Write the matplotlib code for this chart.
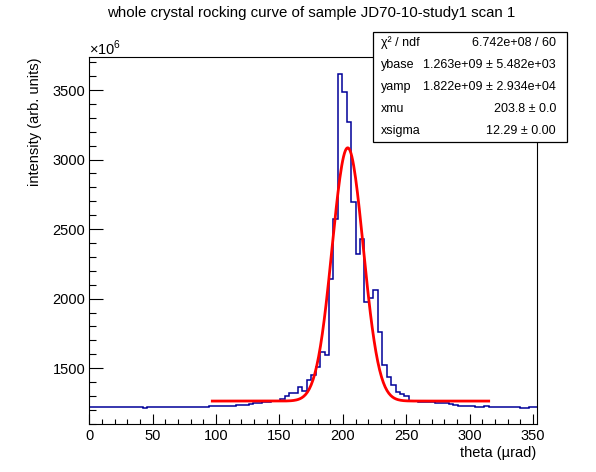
import matplotlib
matplotlib.use('Agg')
import matplotlib.pyplot as plt
import numpy as np

plt.rcParams['font.family'] = ['Liberation Sans', 'DejaVu Sans']
plt.rcParams['mathtext.fontset'] = 'custom'
plt.rcParams['mathtext.rm'] = 'Liberation Sans'

# histogram: bins of 3.5 urad starting at 0, contents in units of 1e6
bin_width = 3.5
counts = [
    1217, 1217, 1217, 1217, 1217, 1217, 1217, 1217, 1217, 1217,
    1217, 1217, 1210, 1217, 1217, 1217, 1217, 1217, 1217, 1217,
    1217, 1217, 1217, 1217, 1217, 1217, 1217, 1227, 1227, 1227,
    1227, 1227, 1227, 1234, 1234, 1234, 1241, 1251, 1251, 1258,
    1258, 1262, 1265, 1277, 1296, 1320, 1320, 1363, 1337, 1416,
    1447, 1505, 1615, 1596, 2140, 2571, 3613, 3488, 3268, 2697,
    2319, 2427, 1974, 2003, 2063, 1763, 1522, 1435, 1380, 1327,
    1315, 1299, 1267, 1267, 1258, 1258, 1255, 1255, 1252, 1250,
    1246, 1240, 1235, 1230, 1228, 1227, 1224, 1222, 1220, 1224,
    1220, 1220, 1220, 1220, 1220, 1217, 1217, 1210, 1210, 1218,
    1218,
]
edges = np.arange(len(counts) + 1) * bin_width

# fit parameters (from the stats box), fit range
ybase = 1263.0   # x1e6
yamp = 1822.0
xmu = 203.8
xsigma = 12.29
fit_lo, fit_hi = 97.0, 315.0

stat_names = ['χ² / ndf', 'ybase', 'yamp', 'xmu', 'xsigma']
stat_values = ['6.742e+08 / 60', '1.263e+09 ± 5.482e+03', '1.822e+09 ± 2.934e+04',
               '203.8 ± 0.0', '12.29 ± 0.00']

W, H = 596, 472
fig = plt.figure(figsize=(W / 100, H / 100), dpi=100)
ax = fig.add_axes([89.3 / W, 1 - 424 / H, (536.5 - 89.3) / W, (424 - 56.7) / H])

ax.stairs(counts, edges, baseline=None, color='#000099', lw=1.1)

xf = np.linspace(fit_lo, fit_hi, 300)
yf = ybase + yamp * np.exp(-0.5 * ((xf - xmu) / xsigma) ** 2)
ax.plot(xf, yf, color='red', lw=2)

ax.set_xlim(0, 352.7)
ax.set_ylim(1098, 3740)

ax.set_xticks(np.arange(0, 351, 50))
ax.set_xticks(np.arange(0, 352, 10), minor=True)
ax.set_yticks(np.arange(1500, 3501, 500))
ax.set_yticks(np.arange(1100, 3740, 100), minor=True)
ax.tick_params(axis='both', which='both', direction='in', width=0.8,
               top=False, right=False, labelsize=10.5)
ax.tick_params(axis='x', which='major', length=7.5, pad=3.5)
ax.tick_params(axis='x', which='minor', length=3.8)
ax.tick_params(axis='y', which='major', length=10, pad=3)
ax.tick_params(axis='y', which='minor', length=5)
for s in ax.spines.values():
    s.set_linewidth(0.8)

fig.text(89 / W, 1 - 48 / H, r'$\times10^{6}$', fontsize=10.5, ha='left', va='center')
fig.text(311 / W, 1 - 13 / H, 'whole crystal rocking curve of sample JD70-10-study1 scan 1',
         fontsize=10.8, ha='center', va='center')
fig.text(536 / W, 1 - 453 / H, 'theta (µrad)', fontsize=10.5, ha='right', va='center')
fig.text(35 / W, 1 - 57 / H, 'intensity (arb. units)', fontsize=10.5, rotation=90,
         ha='center', va='top')

# stats box
bx0, bx1, by0, by1 = 373, 567, 32, 142
box = plt.Rectangle((bx0 / W, 1 - by1 / H), (bx1 - bx0) / W, (by1 - by0) / H,
                    transform=fig.transFigure, facecolor='white', edgecolor='black', lw=0.9)
fig.patches.append(box)
row_h = (by1 - by0) / len(stat_names)
for i, (n, v) in enumerate(zip(stat_names, stat_values)):
    yc = by0 + row_h * (i + 0.5)
    fig.text(381 / W, 1 - yc / H, n, fontsize=9, ha='left', va='center')
    fig.text(556 / W, 1 - yc / H, v, fontsize=9, ha='right', va='center')

fig.savefig('out.png', dpi=100)
